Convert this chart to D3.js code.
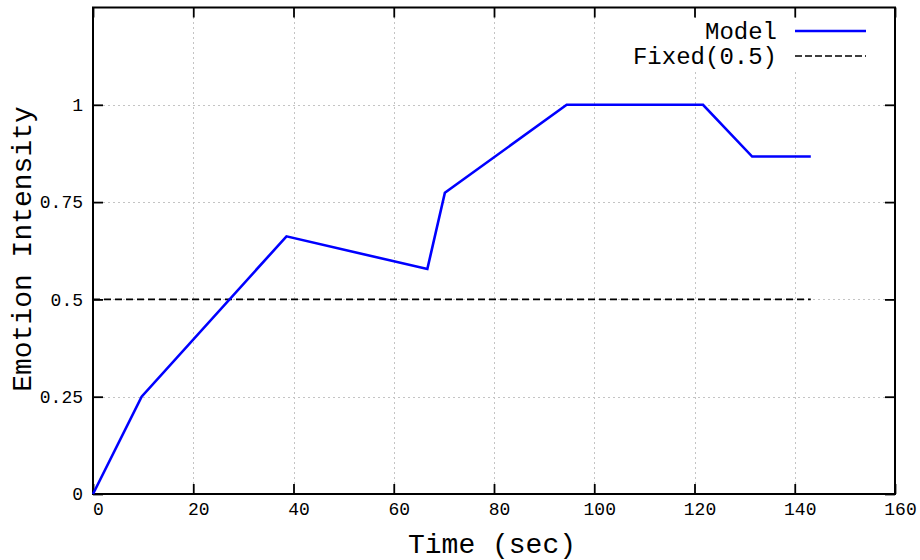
<!DOCTYPE html>
<html>
<head>
<meta charset="utf-8">
<script src="https://cdn.jsdelivr.net/npm/d3@7"></script>
<style>
  html, body { margin: 0; padding: 0; background: #fff; }
  svg { display: block; }
  text { font-family: "Liberation Mono", "Courier New", monospace; fill: #000; }
</style>
</head>
<body>
<svg id="chart" width="920" height="560"></svg>
<script>
// Emotion intensity over time
const timeSec = [0, 9.7, 38.6, 66.7, 70.2, 94.5, 121.7, 131.5, 143.2];
const modelIntensity = [0, 0.25, 0.662, 0.578, 0.774, 1.0, 1.0, 0.867, 0.867];
const fixedLevel = 0.5;
const fixedSpan = [0, 143.2];

const xTicks = [0, 20, 40, 60, 80, 100, 120, 140, 160];
const yTicks = [0, 0.25, 0.5, 0.75, 1];
const yTickLabels = ["0", "0.25", "0.5", "0.75", "1"];

const seriesNames = ["Model", "Fixed(0.5)"];

const W = 920, H = 560;
const m = { left: 93, right: 25, top: 7.5, bottom: 66 };

const svg = d3.select("#chart");
const x = d3.scaleLinear().domain([0, 160]).range([m.left, W - m.right]);
const y = d3.scaleLinear().domain([0, 1.25]).range([H - m.bottom, m.top]);

// dotted grid
const grid = svg.append("g")
  .attr("stroke", "#c4c4c4").attr("stroke-width", 1).attr("stroke-dasharray", "2,3");
grid.selectAll("line.gx").data(xTicks.filter(t => t > 0 && t < 160)).join("line")
  .attr("x1", d => Math.round(x(d)) + 0.5).attr("x2", d => Math.round(x(d)) + 0.5)
  .attr("y1", y(0)).attr("y2", y(1.25));
grid.selectAll("line.gy").data(yTicks.filter(t => t > 0)).join("line")
  .attr("y1", d => Math.round(y(d)) + 0.5).attr("y2", d => Math.round(y(d)) + 0.5)
  .attr("x1", x(0)).attr("x2", x(160));

// legend backdrop keeps the grid out of the key area
svg.append("rect")
  .attr("x", 622).attr("y", 18).attr("width", 255).attr("height", 54)
  .attr("fill", "#fff");

// axes with inward ticks on all four sides
const bottom = svg.append("g").attr("transform", `translate(0,${y(0)})`)
  .call(d3.axisBottom(x).tickValues(xTicks).tickSizeInner(-10).tickSizeOuter(0).tickPadding(8));
bottom.selectAll("text").attr("dx", 5).style("font-size", "18px");

const left = svg.append("g").attr("transform", `translate(${x(0)},0)`)
  .call(d3.axisLeft(y).tickValues(yTicks).tickFormat((d, i) => yTickLabels[i])
    .tickSizeInner(-10).tickSizeOuter(0).tickPadding(10));
left.selectAll("text").style("font-size", "18px");

svg.append("g").attr("transform", `translate(0,${y(1.25)})`)
  .call(d3.axisTop(x).tickValues(xTicks).tickSizeInner(-10).tickSizeOuter(0).tickFormat(""));
svg.append("g").attr("transform", `translate(${x(160)},0)`)
  .call(d3.axisRight(y).tickValues(yTicks).tickSizeInner(-10).tickSizeOuter(0).tickFormat(""));

svg.selectAll(".domain").remove();
svg.selectAll(".tick line").attr("stroke", "#000").attr("stroke-width", 1.8);

// plot frame
svg.append("rect")
  .attr("x", x(0)).attr("y", y(1.25))
  .attr("width", x(160) - x(0)).attr("height", y(0) - y(1.25))
  .attr("fill", "none").attr("stroke", "#000").attr("stroke-width", 2);

// fixed reference level
svg.append("line")
  .attr("x1", x(fixedSpan[0])).attr("x2", x(fixedSpan[1]))
  .attr("y1", y(fixedLevel)).attr("y2", y(fixedLevel))
  .attr("stroke", "#000").attr("stroke-width", 1.6).attr("stroke-dasharray", "7,4");

// model curve
const line = d3.line().x(d => x(d[0])).y(d => y(d[1]));
svg.append("path")
  .datum(timeSec.map((t, i) => [t, modelIntensity[i]]))
  .attr("d", line)
  .attr("fill", "none").attr("stroke", "#0000ff").attr("stroke-width", 2.6)
  .attr("stroke-linejoin", "miter");

// key
const key = svg.append("g");
const keyRows = [
  { name: seriesNames[0], y: 31, stroke: "#0000ff", width: 2.6, dash: null },
  { name: seriesNames[1], y: 56, stroke: "#000", width: 1.6, dash: "7,3" }
];
keyRows.forEach(r => {
  key.append("text").attr("x", 777).attr("y", r.y).attr("dy", "0.35em")
    .attr("text-anchor", "end").style("font-size", "24px").text(r.name);
  key.append("line").attr("x1", 795).attr("x2", 866).attr("y1", r.y).attr("y2", r.y)
    .attr("stroke", r.stroke).attr("stroke-width", r.width)
    .attr("stroke-dasharray", r.dash);
});

// axis titles
svg.append("text")
  .attr("x", 492).attr("y", 553).attr("text-anchor", "middle")
  .style("font-size", "28px").text("Time (sec)");
svg.append("text")
  .attr("transform", "translate(31,249) rotate(-90)")
  .attr("text-anchor", "middle")
  .style("font-size", "28px").text("Emotion Intensity");
</script>
</body>
</html>
